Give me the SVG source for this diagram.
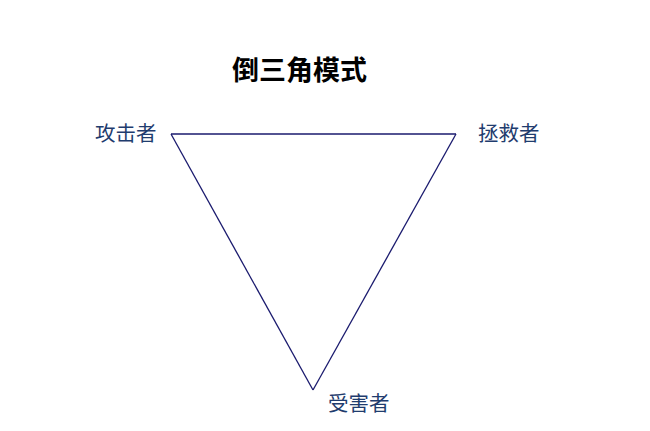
<svg xmlns="http://www.w3.org/2000/svg" width="650" height="431" viewBox="0 0 650 431">
<style>
.lbl{font-family:"Noto Sans CJK SC","Noto Sans",sans-serif;font-size:20.5px;fill:#1f3c6e;}
.title{font-family:"Noto Sans CJK SC","Noto Sans",sans-serif;font-size:27px;font-weight:bold;fill:#000;}
.edge{stroke:#1a1a6e;stroke-width:1.3;fill:none;}
</style>
<rect width="650" height="431" fill="#fff"/>
<text class="title" x="232" y="80" textLength="135">倒三角模式</text>
<g id="connectors">
<line class="edge" x1="171" y1="134" x2="456" y2="134"/>
<line class="edge" x1="456" y1="134" x2="313" y2="390"/>
<line class="edge" x1="313" y1="390" x2="171" y2="134"/>
</g>
<g id="attacker"><text class="lbl" x="95" y="141">攻击者</text></g>
<g id="rescuer"><text class="lbl" x="478" y="141">拯救者</text></g>
<g id="victim"><text class="lbl" x="328" y="411">受害者</text></g>
</svg>
